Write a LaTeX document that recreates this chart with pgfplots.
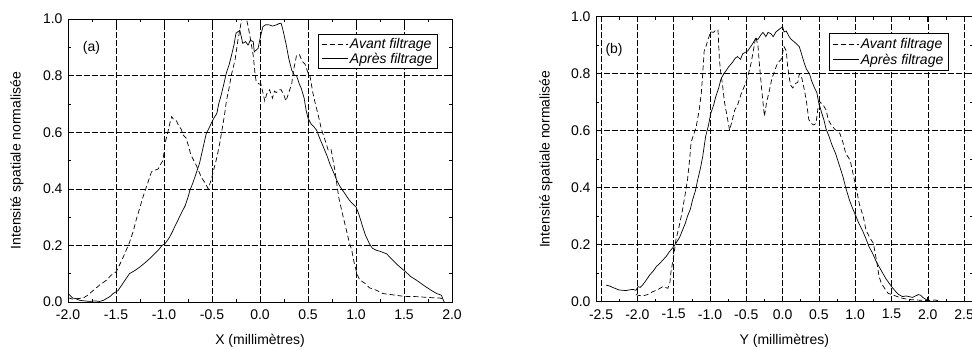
\documentclass[border=0pt]{standalone}
\usepackage{pgfplots}
\pgfplotsset{compat=1.18}
\usepackage{fontspec}
\setmainfont{Liberation Sans}

\newcommand{\fs}{\fontsize{14}{16}\selectfont}

\pgfplotsset{
  myaxis/.style={
    scale only axis,
    ymin=0, ymax=1,
    ytick={0,0.2,0.4,0.6,0.8,1.0},
    minor y tick num=1,
    minor x tick num=1,
    axis line style={black, line width=0.8pt},
    tick style={black, line width=0.6pt},
    major tick length=5pt,
    minor tick length=3pt,
    grid=major,
    major grid style={black, line width=0.5pt, dash pattern=on 6pt off 2pt},
    /pgf/number format/assume math mode=true,
    /pgf/number format/.cd, fixed, fixed zerofill, precision=1, /pgfplots/.cd,
    tick label style={font=\fs},
    xticklabel style={yshift=-4pt},
    yticklabel style={xshift=-2pt},
    label style={font=\fs},
    ylabel={Intensité spatiale normalisée},
    legend cell align=left,
    legend image code/.code={\draw[##1] (0pt,0pt) -- (26pt,0pt);},
    legend style={draw=black, line width=0.6pt, font=\fs\itshape,
      inner xsep=3pt, inner ysep=2pt, row sep=-1pt},
  },
  avant/.style={black, line width=0.7pt, dash pattern=on 5pt off 3pt},
  apres/.style={black, line width=0.7pt},
}

\begin{document}
\begin{tikzpicture}
\useasboundingbox (0pt,0pt) rectangle (972pt,349pt);
\clip (0pt,0pt) rectangle (972pt,349pt);

% ---------------- (a)
\begin{axis}[myaxis,
  at={(68pt,47pt)}, anchor=south west,
  width=384pt, height=283pt,
  xmin=-2, xmax=2,
  xtick={-2,-1.5,...,2},
  xlabel={X (millimètres)},
  xlabel style={at={(axis description cs:0.5,-0.138)}, anchor=center},
  ylabel style={at={(axis description cs:-0.133,0.5)}, anchor=center},
  legend style={at={(axis description cs:0.651,0.947)}, anchor=north west},
]
\addplot[avant] coordinates {
(-2.00,0.015) (-1.95,0.010) (-1.90,0.012) (-1.84,0.014) (-1.79,0.025) (-1.74,0.040)
(-1.67,0.060) (-1.60,0.077) (-1.55,0.095) (-1.50,0.106) (-1.45,0.140) (-1.41,0.170)
(-1.36,0.210) (-1.32,0.250) (-1.29,0.290) (-1.25,0.335) (-1.22,0.370) (-1.17,0.420)
(-1.13,0.460) (-1.10,0.465) (-1.06,0.470) (-1.03,0.490) (-1.01,0.500) (-0.99,0.560)
(-0.96,0.600) (-0.94,0.630) (-0.92,0.655) (-0.90,0.645) (-0.87,0.640) (-0.85,0.625)
(-0.82,0.610) (-0.80,0.590) (-0.77,0.580) (-0.74,0.545) (-0.72,0.520) (-0.69,0.500)
(-0.66,0.480) (-0.61,0.440) (-0.57,0.420) (-0.54,0.400) (-0.51,0.430) (-0.48,0.470)
(-0.45,0.510) (-0.42,0.560) (-0.40,0.600) (-0.37,0.660) (-0.35,0.710) (-0.32,0.760)
(-0.30,0.800) (-0.26,0.855) (-0.23,0.925) (-0.19,1.000) (-0.14,1.000) (-0.11,0.950)
(-0.09,0.910) (-0.07,0.870) (-0.05,0.800) (-0.04,0.780) (-0.01,0.770) (0.01,0.770)
(0.03,0.740) (0.05,0.710) (0.07,0.735) (0.10,0.750) (0.13,0.720) (0.15,0.745)
(0.17,0.740) (0.20,0.750) (0.22,0.750) (0.25,0.730) (0.27,0.710) (0.30,0.740)
(0.33,0.770) (0.35,0.820) (0.38,0.870) (0.41,0.875) (0.44,0.850) (0.47,0.840)
(0.50,0.810) (0.52,0.800) (0.55,0.740) (0.57,0.710) (0.61,0.655) (0.64,0.610)
(0.67,0.580) (0.71,0.537) (0.74,0.540) (0.78,0.466) (0.82,0.370) (0.86,0.310)
(0.90,0.254) (0.93,0.210) (0.955,0.184) (0.98,0.140) (1.01,0.100) (1.04,0.077)
(1.09,0.067) (1.14,0.050) (1.21,0.042) (1.28,0.030) (1.39,0.025) (1.50,0.020)
(1.63,0.019) (1.75,0.016) (1.875,0.014) (1.92,0.010)
};
\addlegendentry{Avant filtrage}
\addplot[apres] coordinates {
(-2.00,0.030) (-1.97,0.020) (-1.95,0.014) (-1.92,0.012) (-1.88,0.006) (-1.83,0.004)
(-1.77,0.002) (-1.72,0.004) (-1.67,0.002) (-1.63,0.006) (-1.60,0.012) (-1.56,0.020)
(-1.53,0.030) (-1.48,0.040) (-1.45,0.055) (-1.43,0.065) (-1.40,0.080) (-1.36,0.100)
(-1.30,0.112) (-1.25,0.124) (-1.20,0.138) (-1.15,0.153) (-1.10,0.170) (-1.06,0.183)
(-1.02,0.200) (-0.99,0.206) (-0.96,0.220) (-0.94,0.230) (-0.91,0.250) (-0.89,0.265)
(-0.86,0.285) (-0.84,0.300) (-0.81,0.320) (-0.78,0.340) (-0.75,0.370) (-0.73,0.395)
(-0.70,0.420) (-0.68,0.440) (-0.65,0.470) (-0.63,0.490) (-0.61,0.520) (-0.59,0.550)
(-0.57,0.580) (-0.56,0.595) (-0.53,0.615) (-0.51,0.630) (-0.48,0.650) (-0.45,0.666)
(-0.43,0.700) (-0.40,0.737) (-0.37,0.780) (-0.35,0.810) (-0.32,0.840) (-0.30,0.867)
(-0.27,0.910) (-0.25,0.950) (-0.23,0.955) (-0.21,0.960) (-0.19,0.930) (-0.18,0.914)
(-0.15,0.920) (-0.125,0.908) (-0.10,0.925) (-0.07,0.920) (-0.06,0.884) (-0.04,0.890)
(-0.02,0.896) (0.00,0.930) (0.03,0.973) (0.06,0.980) (0.10,0.979) (0.13,0.975)
(0.17,0.979) (0.20,0.984) (0.22,0.985) (0.24,0.960) (0.27,0.914) (0.30,0.860)
(0.33,0.820) (0.36,0.800) (0.38,0.800) (0.41,0.770) (0.43,0.755) (0.46,0.720)
(0.48,0.678) (0.50,0.650) (0.53,0.630) (0.56,0.620) (0.59,0.607) (0.62,0.580)
(0.66,0.548) (0.70,0.515) (0.73,0.486) (0.77,0.455) (0.80,0.430) (0.83,0.410)
(0.86,0.395) (0.90,0.375) (0.93,0.360) (0.97,0.345) (1.00,0.336) (1.03,0.310)
(1.07,0.265) (1.10,0.235) (1.14,0.206) (1.17,0.190) (1.21,0.183) (1.26,0.178)
(1.32,0.170) (1.37,0.152) (1.42,0.135) (1.47,0.120) (1.52,0.106) (1.57,0.090)
(1.63,0.077) (1.68,0.065) (1.73,0.053) (1.79,0.040) (1.84,0.030) (1.89,0.024)
(1.91,0.006) (1.92,0.000)
};
\addlegendentry{Après filtrage}
\node[font=\fs] at (axis description cs:0.061,0.898) {(a)};
\end{axis}

% ---------------- (b)
\begin{axis}[myaxis,
  at={(596pt,47.3pt)}, anchor=south west,
  width=376.8pt, height=285pt,
  xmin=-2.57, xmax=2.62,
  xtick={-2.5,-2,...,2.5},
  xlabel={Y (millimètres)},
  xlabel style={at={(axis description cs:0.5,-0.137)}, anchor=center},
  ylabel style={at={(axis description cs:-0.133,0.5)}, anchor=center},
  legend style={at={(axis description cs:0.618,0.943)}, anchor=north west, inner ysep=3pt, row sep=0pt},
]
\addplot[avant] coordinates {
(-2.02,0.025) (-1.98,0.022) (-1.93,0.020) (-1.86,0.025) (-1.79,0.035) (-1.72,0.042)
(-1.65,0.053) (-1.58,0.047) (-1.55,0.070) (-1.54,0.100) (-1.50,0.160) (-1.47,0.216)
(-1.42,0.270) (-1.38,0.320) (-1.34,0.380) (-1.31,0.427) (-1.28,0.500) (-1.26,0.560)
(-1.22,0.590) (-1.19,0.614) (-1.15,0.670) (-1.12,0.730) (-1.10,0.800) (-1.08,0.880)
(-1.05,0.900) (-1.03,0.918) (-0.99,0.947) (-0.95,0.945) (-0.92,0.953) (-0.89,0.955)
(-0.87,0.848) (-0.85,0.800) (-0.83,0.766) (-0.80,0.700) (-0.78,0.672) (-0.75,0.630)
(-0.73,0.602) (-0.69,0.640) (-0.66,0.672) (-0.62,0.690) (-0.57,0.730) (-0.52,0.760)
(-0.48,0.790) (-0.44,0.830) (-0.41,0.870) (-0.38,0.915) (-0.37,0.930) (-0.34,0.900)
(-0.32,0.836) (-0.29,0.750) (-0.25,0.650) (-0.22,0.700) (-0.18,0.743) (-0.15,0.780)
(-0.11,0.810) (-0.08,0.830) (-0.05,0.842) (-0.02,0.850) (0.02,0.895) (0.05,0.880)
(0.07,0.825) (0.09,0.790) (0.11,0.760) (0.14,0.750) (0.18,0.766) (0.21,0.770)
(0.23,0.800) (0.26,0.790) (0.30,0.743) (0.33,0.700) (0.36,0.640) (0.39,0.626)
(0.43,0.620) (0.46,0.626) (0.49,0.684) (0.52,0.700) (0.56,0.690) (0.60,0.672)
(0.63,0.638) (0.67,0.620) (0.72,0.605) (0.79,0.590) (0.83,0.560) (0.87,0.520)
(0.93,0.497) (0.97,0.450) (1.02,0.390) (1.06,0.340) (1.11,0.300) (1.15,0.250)
(1.20,0.225) (1.25,0.205) (1.29,0.150) (1.33,0.088) (1.36,0.065) (1.39,0.053)
(1.45,0.030) (1.50,0.025) (1.58,0.018) (1.65,0.012) (1.74,0.008) (1.83,0.006)
(1.92,0.005) (2.02,0.004) (2.10,0.006) (2.20,0.000) (2.24,0.000)
};
\addlegendentry{Avant filtrage}
\addplot[apres] coordinates {
(-2.43,0.058) (-2.38,0.055) (-2.34,0.050) (-2.29,0.045) (-2.25,0.041) (-2.20,0.040)
(-2.16,0.039) (-2.10,0.042) (-2.06,0.043) (-2.02,0.040) (-1.99,0.053) (-1.96,0.050)
(-1.93,0.058) (-1.88,0.075) (-1.83,0.094) (-1.78,0.108) (-1.74,0.123) (-1.69,0.135)
(-1.65,0.146) (-1.60,0.160) (-1.56,0.175) (-1.51,0.190) (-1.47,0.205) (-1.42,0.225)
(-1.38,0.250) (-1.34,0.275) (-1.31,0.300) (-1.27,0.325) (-1.24,0.357) (-1.20,0.390)
(-1.17,0.427) (-1.13,0.470) (-1.10,0.510) (-1.08,0.545) (-1.06,0.580) (-1.02,0.620)
(-0.99,0.660) (-0.95,0.690) (-0.92,0.720) (-0.88,0.750) (-0.85,0.780) (-0.81,0.800)
(-0.78,0.810) (-0.74,0.825) (-0.69,0.840) (-0.65,0.855) (-0.62,0.860) (-0.58,0.850)
(-0.55,0.870) (-0.51,0.875) (-0.48,0.880) (-0.44,0.895) (-0.41,0.906) (-0.37,0.924)
(-0.34,0.920) (-0.30,0.936) (-0.27,0.945) (-0.23,0.930) (-0.20,0.945) (-0.16,0.940)
(-0.13,0.930) (-0.09,0.947) (-0.05,0.955) (0.00,0.965) (0.02,0.947) (0.05,0.950)
(0.09,0.930) (0.12,0.920) (0.16,0.912) (0.19,0.905) (0.23,0.895) (0.26,0.870)
(0.30,0.836) (0.33,0.815) (0.37,0.800) (0.40,0.775) (0.44,0.750) (0.47,0.735)
(0.50,0.696) (0.53,0.670) (0.57,0.637) (0.60,0.605) (0.64,0.580) (0.68,0.550)
(0.73,0.520) (0.78,0.480) (0.83,0.440) (0.87,0.400) (0.92,0.357) (0.96,0.330)
(1.01,0.300) (1.05,0.275) (1.10,0.250) (1.15,0.220) (1.19,0.193) (1.24,0.170)
(1.28,0.146) (1.33,0.122) (1.38,0.100) (1.42,0.082) (1.47,0.064) (1.51,0.050)
(1.56,0.035) (1.60,0.025) (1.65,0.018) (1.70,0.020) (1.74,0.018) (1.79,0.015)
(1.83,0.020) (1.87,0.025) (1.90,0.023) (1.93,0.015) (1.95,0.012) (2.00,0.004)
(2.02,0.000)
};
\addlegendentry{Après filtrage}
\node[font=\fs] at (axis description cs:0.048,0.883) {(b)};
\end{axis}
\end{tikzpicture}
\end{document}
